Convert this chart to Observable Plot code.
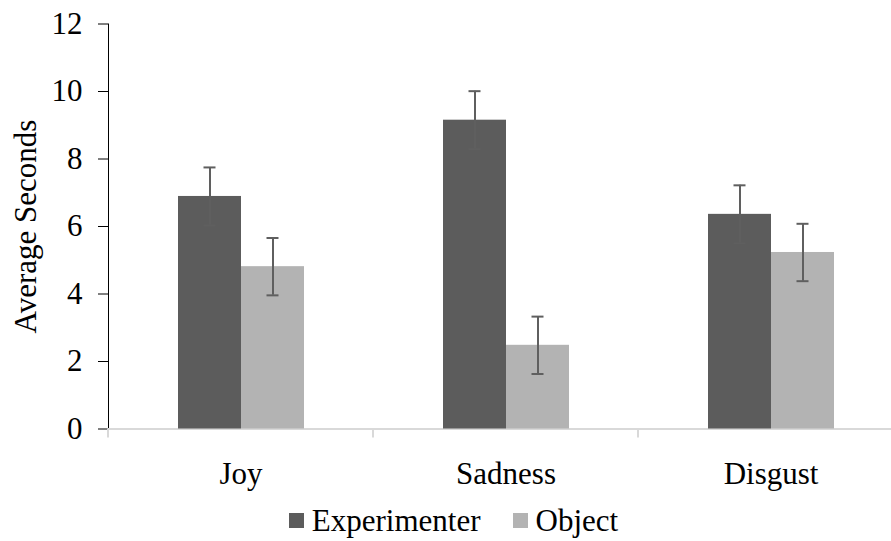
<!DOCTYPE html>
<html>
<head>
<meta charset="utf-8">
<script src="https://cdn.jsdelivr.net/npm/d3@7"></script>
<script src="https://cdn.jsdelivr.net/npm/@observablehq/plot@0.6"></script>
<style>
  html, body { margin: 0; padding: 0; background: #fff; }
  #chart { width: 891px; height: 541px; overflow: hidden; font-family: 'Liberation Serif', 'Times New Roman', serif; }
  #chart svg text { font-family: 'Liberation Serif', 'Times New Roman', serif; }
  #legend { height: 41px; display: flex; align-items: center; justify-content: center; padding-left: 16px;
    font-size: 31px; color: #000; line-height: 1; }
  .item { display: flex; align-items: center; margin: 0 16px; }
  .sw { width: 15px; height: 15px; margin-right: 8px; }
</style>
</head>
<body>
<div id="chart"></div>
<script>
const categories = ["Joy", "Sadness", "Disgust"];
const series = ["Experimenter", "Object"];
const experimenter = [6.89, 9.15, 6.36];
const object = [4.81, 2.48, 5.23];
const experimenterErr = [0.86, 0.86, 0.86];
const objectErr = [0.85, 0.85, 0.85];
const yTicks = [0, 2, 4, 6, 8, 10, 12];
const colors = ["#5c5c5c", "#b3b3b3"];

const rows = [];
categories.forEach((c, i) => {
  rows.push({category: c, series: series[0], value: experimenter[i], err: experimenterErr[i]});
  rows.push({category: c, series: series[1], value: object[i], err: objectErr[i]});
});

const plot = Plot.plot({
  width: 891,
  height: 500,
  marginTop: 23.5,
  marginBottom: 71.5,
  marginLeft: 108,
  marginRight: 0,
  style: {fontFamily: "'Liberation Serif', 'Times New Roman', serif", fontSize: "31px", color: "#000", background: "#fff"},
  fx: {domain: categories, range: [108, 903], padding: 0, label: null, tickSize: 0, tickPadding: 33},
  x: {domain: series, paddingInner: 0, paddingOuter: 1.103, axis: null},
  y: {domain: [0, 12], ticks: yTicks, tickFormat: d => d, tickSize: 10, tickPadding: 16, line: true,
      label: "Average Seconds", labelArrow: false, labelAnchor: "center", labelOffset: 95},
  color: {domain: series, range: colors},
  marks: [
    Plot.ruleY([0], {stroke: "#d9d9d9", strokeWidth: 2}),
    Plot.barY(rows, {fx: "category", x: "series", y: "value", fill: "series"}),
    Plot.ruleX(rows, {fx: "category", x: "series", y1: d => d.value - d.err, y2: d => d.value + d.err, stroke: "#5f5f5f", strokeWidth: 2}),
    Plot.tickY(rows, {fx: "category", x: "series", y: d => d.value + d.err, stroke: "#5f5f5f", strokeWidth: 2, insetLeft: 25.5, insetRight: 25.5}),
    Plot.tickY(rows, {fx: "category", x: "series", y: d => d.value - d.err, stroke: "#5f5f5f", strokeWidth: 2, insetLeft: 25.5, insetRight: 25.5})
  ]
});

// category separator ticks below the baseline, from the fx scale's band edges
const fx = plot.scale("fx");
const yS = plot.scale("y");
const y0 = yS.apply(0);
const edges = categories.map(c => fx.apply(c)).concat([fx.apply(categories[categories.length - 1]) + fx.bandwidth]);
const svg = d3.select(plot);
edges.forEach(xe => {
  svg.append("line").attr("x1", xe).attr("x2", xe).attr("y1", y0).attr("y2", y0 + 9)
    .attr("stroke", "#d9d9d9").attr("stroke-width", 2);
});

document.getElementById("chart").appendChild(plot);

const legend = document.createElement("div");
legend.id = "legend";
series.forEach((s, i) => {
  const it = document.createElement("div");
  it.className = "item";
  const sw = document.createElement("span");
  sw.className = "sw";
  sw.style.background = colors[i];
  const t = document.createElement("span");
  t.textContent = s;
  it.appendChild(sw);
  it.appendChild(t);
  legend.appendChild(it);
});
document.getElementById("chart").appendChild(legend);
</script>
</body>
</html>
